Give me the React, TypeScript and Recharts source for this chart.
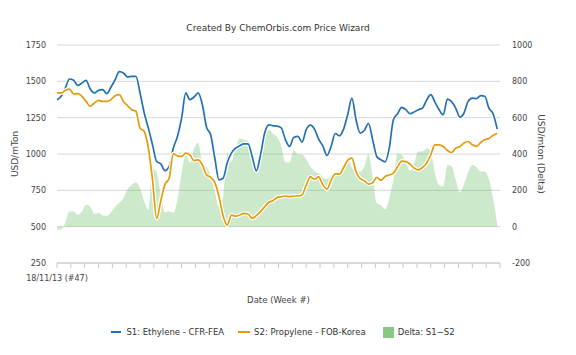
import React from 'react';
import { ComposedChart, Line, Area, XAxis, YAxis, CartesianGrid, Legend } from 'recharts';

// Weekly data, one reading every 3 weeks starting 18/11/13 (#47)
const weekStep = 3;
const firstTickLabel = '18/11/13 (#47)';
const seriesNames = ['S1: Ethylene - CFR-FEA', 'S2: Propylene - FOB-Korea', 'Delta: S1\u2212S2'];

const s1Ethylene = [
  1374, 1397, 1454, 1516, 1507, 1472, 1488, 1507, 1447, 1420,
  1438, 1443, 1415, 1461, 1511, 1567, 1557, 1530, 1534, 1534,
  1420, 1282, 1178, 1063, 948, 932, 885, 914, 1040, 1121,
  1247, 1420, 1374, 1392, 1420, 1339, 1185, 1132, 971, 822,
  833, 941, 1006, 1040, 1056, 1070, 1070, 983, 884, 994,
  1144, 1201, 1194, 1192, 1180, 1098, 1052, 1114, 1121, 1082,
  1167, 1199, 1171, 1102, 1056, 990, 1052, 1141, 1125, 1171,
  1272, 1385, 1236, 1144, 1162, 1210, 1098, 983, 960, 946,
  1040, 1236, 1277, 1321, 1305, 1277, 1289, 1305, 1316, 1371,
  1408, 1357, 1305, 1270, 1378, 1360, 1316, 1254, 1282, 1362,
  1385, 1381, 1401, 1397, 1316, 1277, 1171,
];

const s2Propylene = [
  1420, 1420, 1438, 1447, 1413, 1415, 1397, 1362, 1328, 1351,
  1369, 1362, 1362, 1374, 1401, 1408, 1362, 1332, 1305, 1293,
  1178, 1155, 1040, 822, 557, 679, 791, 833, 1001, 987,
  983, 1006, 994, 955, 960, 925, 856, 840, 803, 707,
  574, 511, 580, 572, 580, 591, 587, 557, 576, 603,
  638, 668, 679, 700, 706, 711, 706, 711, 711, 718,
  785, 843, 826, 843, 788, 758, 818, 863, 861, 905,
  957, 971, 878, 830, 816, 793, 802, 839, 820, 845,
  856, 868, 912, 951, 948, 930, 903, 891, 907, 937,
  994, 1063, 1063, 1052, 1024, 1010, 1040, 1052, 1075, 1086,
  1063, 1052, 1079, 1098, 1107, 1128, 1141,
];

const deltaS1S2 = [
  -18, -15, 22, 83, 83, 64, 83, 120, 110, 70,
  77, 61, 59, 79, 110, 132, 158, 206, 230, 245,
  212, 138, 92, 320, 300, 175, 80, 83, 77, 147,
  294, 395, 353, 432, 460, 350, 327, 285, 193, 110,
  169, 405, 359, 432, 486, 478, 475, 423, 313, 395,
  506, 533, 511, 494, 445, 353, 353, 419, 399, 397,
  372, 331, 307, 294, 272, 263, 285, 300, 287, 325,
  386, 324, 303, 303, 331, 399, 276, 129, 118, 96,
  155, 261, 403, 394, 357, 307, 350, 414, 414, 432,
  414, 294, 230, 221, 340, 333, 258, 189, 235, 298,
  339, 327, 303, 303, 261, 156, 13,
];

const leftTicks = [250, 500, 750, 1000, 1250, 1500, 1750];
const rightTicks = [-200, 0, 200, 400, 600, 800, 1000];
const xTicks = [0, 10, 20, 30, 40, 50, 60, 70, 80, 90, 100, 110, 120, 130, 140, 150, 160, 170, 180, 190, 200, 210, 220, 230, 240, 250, 260, 270, 280, 290, 300, 310, 320];

const data = s1Ethylene.map((v, i) => ({
  week: i * weekStep,
  s1: v,
  s2: s2Propylene[i],
  delta: deltaS1S2[i],
}));

const BLUE = '#2370b6';
const ORANGE = '#e29c0c';
const GREEN = '#6fbf6a';
const FONT = '"DejaVu Sans", sans-serif';

const renderLegend = () => (
  <div
    style={{
      display: 'flex',
      justifyContent: 'center',
      alignItems: 'center',
      height: 20,
      fontFamily: FONT,
      fontSize: 8.5,
      color: '#333',
      paddingRight: 10,
      boxSizing: 'border-box',
    }}
  >
    <span style={{ display: 'inline-block', width: 10, height: 2, background: BLUE, marginRight: 5 }} />
    <span>{seriesNames[0]}</span>
    <span style={{ display: 'inline-block', width: 12, height: 2, background: ORANGE, marginLeft: 14, marginRight: 4 }} />
    <span>{seriesNames[1]}</span>
    <span style={{ display: 'inline-block', width: 11, height: 11, background: '#85c985', marginLeft: 17, marginRight: 4 }} />
    <span>{seriesNames[2]}</span>
  </div>
);

const LeftTitle = (props: any) => {
  const vb = props.viewBox || {};
  const cy = (vb.y || 0) + (vb.height || 0) / 2;
  return (
    <text x={15} y={cy} transform={`rotate(-90, 15, ${cy})`} textAnchor="middle" dominantBaseline="central"
      fontFamily={FONT} fontSize={9} fill="#444">USD/mTon</text>
  );
};

const RightTitle = (props: any) => {
  const vb = props.viewBox || {};
  const cy = (vb.y || 0) + (vb.height || 0) / 2;
  return (
    <text x={541} y={cy} transform={`rotate(90, 541, ${cy})`} textAnchor="middle" dominantBaseline="central"
      fontFamily={FONT} fontSize={9} fill="#444">USD/mton (Delta)</text>
  );
};

export default function App() {
  return (
    <div style={{ position: 'absolute', left: 0, top: 0, width: 576, height: 355, background: '#fff' }}>
      <div
        style={{
          position: 'absolute',
          left: 0,
          top: 22,
          width: 556,
          textAlign: 'center',
          fontFamily: FONT,
          fontSize: 9,
          lineHeight: '12px',
          color: '#333',
        }}
      >
        Created By ChemOrbis.com Price Wizard
      </div>
      <ComposedChart width={576} height={355} data={data} margin={{ top: 45, right: 0, bottom: 13, left: 0 }}>
        <CartesianGrid yAxisId="left" vertical={false} stroke="#d6d6d6" strokeWidth={1} />
        <XAxis
          dataKey="week"
          type="number"
          domain={[0, 320]}
          ticks={xTicks}
          interval={0}
          tickFormatter={(v: number) => (v === 0 ? firstTickLabel : '')}
          height={59}
          tickSize={5}
          tickMargin={7}
          stroke="#c8c8c8"
          tick={{ fontFamily: FONT, fontSize: 8, fill: '#444' }}
          label={{ value: 'Date (Week #)', position: 'insideBottom', offset: 19, style: { fontFamily: FONT, fontSize: 8.5, fill: '#444' } }}
        />
        <YAxis
          yAxisId="left"
          orientation="left"
          domain={[250, 1750]}
          ticks={leftTicks}
          width={57}
          axisLine={false}
          tickLine={false}
          tickMargin={5}
          tick={{ fontFamily: FONT, fontSize: 8, fill: '#444' }}
          label={<LeftTitle />}
        />
        <YAxis
          yAxisId="right"
          orientation="right"
          domain={[-200, 1000]}
          ticks={rightTicks}
          width={76}
          axisLine={false}
          tickLine={false}
          tickMargin={6}
          tick={{ fontFamily: FONT, fontSize: 8, fill: '#444' }}
          label={<RightTitle />}
        />
        <Legend verticalAlign="bottom" height={20} content={renderLegend} />
        <Area
          yAxisId="right"
          dataKey="delta"
          type="monotone"
          fill={GREEN}
          fillOpacity={0.35}
          stroke="none"
          isAnimationActive={false}
          name={seriesNames[2]}
        />
        <Line yAxisId="left" dataKey="s1" type="monotone" stroke="#ffffff" strokeWidth={4} dot={false} isAnimationActive={false} legendType="none" />
        <Line yAxisId="left" dataKey="s1" type="monotone" stroke={BLUE} strokeWidth={1.7} dot={false} isAnimationActive={false} name={seriesNames[0]} />
        <Line yAxisId="left" dataKey="s2" type="monotone" stroke="#ffffff" strokeWidth={4} dot={false} isAnimationActive={false} legendType="none" />
        <Line yAxisId="left" dataKey="s2" type="monotone" stroke={ORANGE} strokeWidth={1.7} dot={false} isAnimationActive={false} name={seriesNames[1]} />
      </ComposedChart>
    </div>
  );
}
